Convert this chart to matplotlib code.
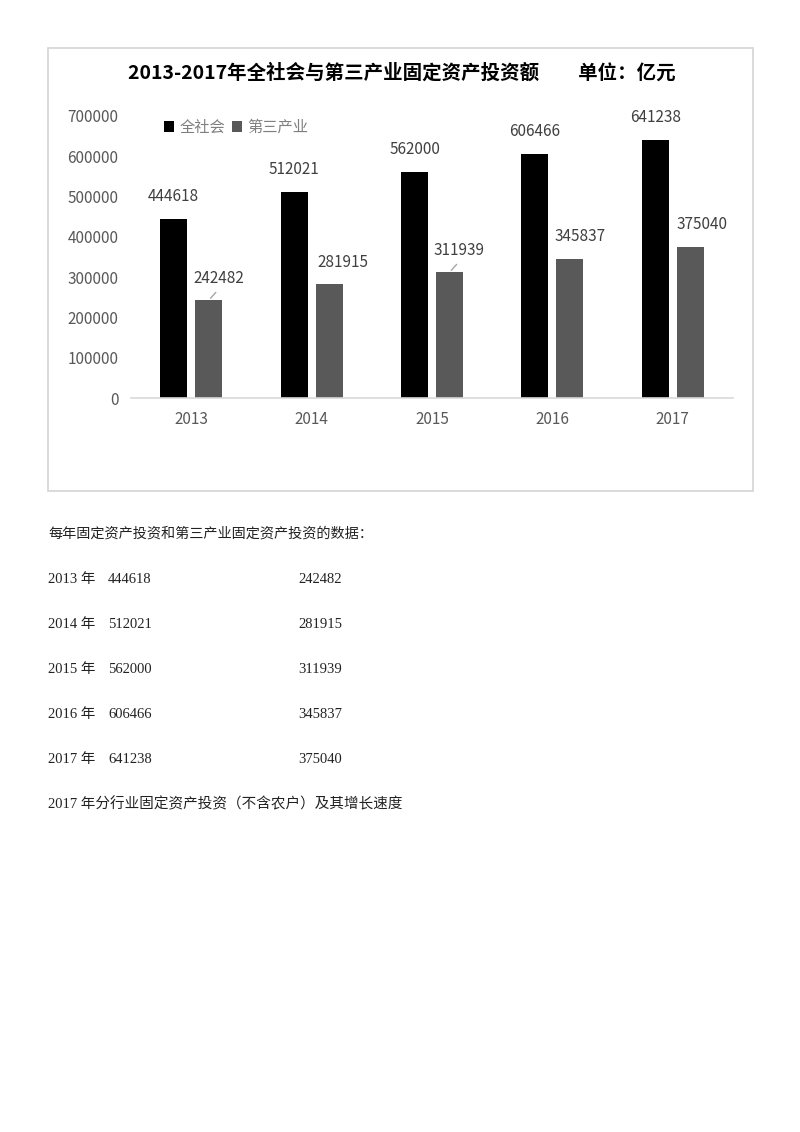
import matplotlib
matplotlib.use('Agg')
import matplotlib.pyplot as plt
import matplotlib.patches as patches
import numpy as np

plt.rcParams['font.family'] = ['Noto Sans CJK SC', 'DejaVu Sans']

years = ['2013', '2014', '2015', '2016', '2017']
quanshehui = [444618, 512021, 562000, 606466, 641238]
disan = [242482, 281915, 311939, 345837, 375040]
series_names = ['全社会', '第三产业']
yticks = [0, 100000, 200000, 300000, 400000, 500000, 600000, 700000]

title = '2013-2017年全社会与第三产业固定资产投资额\u3000\u3000单位：亿元'
intro = '每年固定资产投资和第三产业固定资产投资的数据：'
footer = '2017 年分行业固定资产投资（不含农户）及其增长速度'

W, H = 800, 1132
fig = plt.figure(figsize=(W / 100, H / 100), dpi=100)

def fx(px):
    return px / W

def fy(py):
    return 1 - py / H

# chart frame
frame = patches.Rectangle((fx(48), fy(491)), fx(753) - fx(48), fy(48) - fy(491),
                          transform=fig.transFigure, fill=False,
                          edgecolor='#d4d4d4', linewidth=1.2)
fig.patches.append(frame)

fig.text(fx(402), fy(73), title, ha='center', va='center',
         fontsize=14, fontweight='bold', color='#000000')

ax = fig.add_axes([fx(131), fy(398), fx(733) - fx(131), fy(116) - fy(398)])
x = np.arange(len(years))
w = 0.224
off = 0.145
b1 = ax.bar(x - off, quanshehui, w, color='#000000', label=series_names[0])
b2 = ax.bar(x + off, disan, w, color='#595959', label=series_names[1])

ax.set_xlim(-0.5, len(years) - 0.5)
ax.set_ylim(0, 700000)
ax.set_yticks(yticks)
ax.set_yticklabels([str(v) for v in yticks])
ax.set_xticks(x)
ax.set_xticklabels(years)
ax.tick_params(axis='y', length=0, pad=9, labelsize=11, labelcolor='#595959')
ax.tick_params(axis='x', length=0, pad=9, labelsize=11, labelcolor='#595959')
for s in ['top', 'right', 'left']:
    ax.spines[s].set_visible(False)
ax.spines['bottom'].set_color('#d9d9d9')
ax.spines['bottom'].set_linewidth(1.2)

# data labels
for xi, v in zip(x, quanshehui):
    ax.annotate(str(v), (xi - off, v), xytext=(0, 22), textcoords='offset pixels',
                ha='center', va='center', fontsize=11, color='#404040')

gray_dx = [10, 14, 10, 10, 12]
leader = [True, False, True, False, False]
for xi, v, dx, ld in zip(x, disan, gray_dx, leader):
    ax.annotate(str(v), (xi + off, v), xytext=(dx, 22), textcoords='offset pixels',
                ha='center', va='center', fontsize=11, color='#404040')
    if ld:
        ax.annotate('', (xi + off, v), xytext=(dx - 1, 10), textcoords='offset pixels',
                    arrowprops=dict(arrowstyle='-', color='#a6a6a6', lw=1))

fig.legend(handles=[b1, b2], loc='center left',
           bbox_to_anchor=(fx(156), fy(127)), ncol=2, frameon=False,
           handlelength=0.7, handleheight=0.7, handletextpad=0.35,
           columnspacing=0.4, borderpad=0, fontsize=11, labelcolor='#7f7f7f')

# text below the chart (baseline aligned)
tc = '#222222'
serif = ['Liberation Serif', 'Noto Sans CJK SC']
fig.text(fx(48), fy(538), intro, ha='left', va='baseline', fontsize=10.2, color=tc)
row_y = [583, 628, 673, 718, 763]
for yr, a, b, yy in zip(years, quanshehui, disan, row_y):
    fig.text(fx(48), fy(yy), yr + ' 年', ha='left', va='baseline', fontsize=10.5,
             color=tc, family=serif)
    fig.text(fx(108), fy(yy), str(a), ha='left', va='baseline', fontsize=10.5,
             color=tc, family=serif)
    fig.text(fx(298), fy(yy), str(b), ha='left', va='baseline', fontsize=10.5,
             color=tc, family=serif)
fig.text(fx(48), fy(808), footer, ha='left', va='baseline', fontsize=10.5,
         color=tc, family=serif)

fig.savefig('out.png', dpi=100)
